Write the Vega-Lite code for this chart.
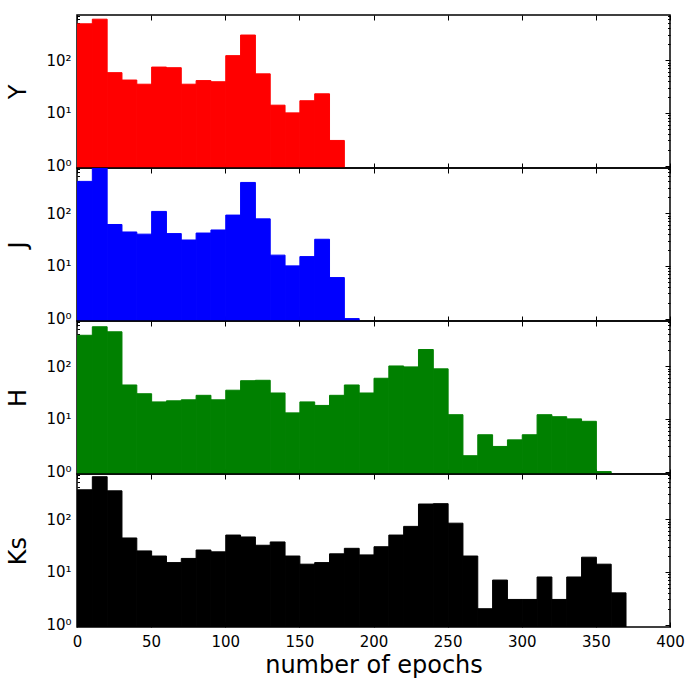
{
  "$schema": "https://vega.github.io/schema/vega-lite/v6.json",
  "padding": {"left": 6, "top": 7, "right": 5, "bottom": 5},
  "background": "white",
  "bounds": "flush",
  "spacing": 0,
  "data": {"values": [
    {"band":"Y","lo":0,"hi":10,"count":490},{"band":"Y","lo":10,"hi":20,"count":600},{"band":"Y","lo":20,"hi":30,"count":58},{"band":"Y","lo":30,"hi":40,"count":42},{"band":"Y","lo":40,"hi":50,"count":35},{"band":"Y","lo":50,"hi":60,"count":74},{"band":"Y","lo":60,"hi":70,"count":72},{"band":"Y","lo":70,"hi":80,"count":35},{"band":"Y","lo":80,"hi":90,"count":41},{"band":"Y","lo":90,"hi":100,"count":39},{"band":"Y","lo":100,"hi":110,"count":122},{"band":"Y","lo":110,"hi":120,"count":300},{"band":"Y","lo":120,"hi":130,"count":55},{"band":"Y","lo":130,"hi":140,"count":14},{"band":"Y","lo":140,"hi":150,"count":10},{"band":"Y","lo":150,"hi":160,"count":17},{"band":"Y","lo":160,"hi":170,"count":23},{"band":"Y","lo":170,"hi":180,"count":3},
    {"band":"J","lo":0,"hi":10,"count":401},{"band":"J","lo":10,"hi":20,"count":900},{"band":"J","lo":20,"hi":30,"count":61},{"band":"J","lo":30,"hi":40,"count":44},{"band":"J","lo":40,"hi":50,"count":40},{"band":"J","lo":50,"hi":60,"count":108},{"band":"J","lo":60,"hi":70,"count":41},{"band":"J","lo":70,"hi":80,"count":31},{"band":"J","lo":80,"hi":90,"count":42},{"band":"J","lo":90,"hi":100,"count":48},{"band":"J","lo":100,"hi":110,"count":92},{"band":"J","lo":110,"hi":120,"count":383},{"band":"J","lo":120,"hi":130,"count":78},{"band":"J","lo":130,"hi":140,"count":16},{"band":"J","lo":140,"hi":150,"count":10},{"band":"J","lo":150,"hi":160,"count":15},{"band":"J","lo":160,"hi":170,"count":32},{"band":"J","lo":170,"hi":180,"count":6},{"band":"J","lo":180,"hi":190,"count":1},
    {"band":"H","lo":0,"hi":10,"count":386},{"band":"H","lo":10,"hi":20,"count":560},{"band":"H","lo":20,"hi":30,"count":449},{"band":"H","lo":30,"hi":40,"count":44},{"band":"H","lo":40,"hi":50,"count":30},{"band":"H","lo":50,"hi":60,"count":21},{"band":"H","lo":60,"hi":70,"count":22},{"band":"H","lo":70,"hi":80,"count":23},{"band":"H","lo":80,"hi":90,"count":28},{"band":"H","lo":90,"hi":100,"count":23},{"band":"H","lo":100,"hi":110,"count":35},{"band":"H","lo":110,"hi":120,"count":53},{"band":"H","lo":120,"hi":130,"count":54},{"band":"H","lo":130,"hi":140,"count":31},{"band":"H","lo":140,"hi":150,"count":13},{"band":"H","lo":150,"hi":160,"count":21},{"band":"H","lo":160,"hi":170,"count":18},{"band":"H","lo":170,"hi":180,"count":28},{"band":"H","lo":180,"hi":190,"count":44},{"band":"H","lo":190,"hi":200,"count":31},{"band":"H","lo":200,"hi":210,"count":59},{"band":"H","lo":210,"hi":220,"count":101},{"band":"H","lo":220,"hi":230,"count":97},{"band":"H","lo":230,"hi":240,"count":207},{"band":"H","lo":240,"hi":250,"count":89},{"band":"H","lo":250,"hi":260,"count":12},{"band":"H","lo":260,"hi":270,"count":2},{"band":"H","lo":270,"hi":280,"count":5},{"band":"H","lo":280,"hi":290,"count":3},{"band":"H","lo":290,"hi":300,"count":4},{"band":"H","lo":300,"hi":310,"count":5},{"band":"H","lo":310,"hi":320,"count":12},{"band":"H","lo":320,"hi":330,"count":11},{"band":"H","lo":330,"hi":340,"count":10},{"band":"H","lo":340,"hi":350,"count":9},{"band":"H","lo":350,"hi":360,"count":1},
    {"band":"Ks","lo":0,"hi":10,"count":361},{"band":"Ks","lo":10,"hi":20,"count":640},{"band":"Ks","lo":20,"hi":30,"count":345},{"band":"Ks","lo":30,"hi":40,"count":44},{"band":"Ks","lo":40,"hi":50,"count":25},{"band":"Ks","lo":50,"hi":60,"count":20},{"band":"Ks","lo":60,"hi":70,"count":15},{"band":"Ks","lo":70,"hi":80,"count":18},{"band":"Ks","lo":80,"hi":90,"count":26},{"band":"Ks","lo":90,"hi":100,"count":24},{"band":"Ks","lo":100,"hi":110,"count":50},{"band":"Ks","lo":110,"hi":120,"count":46},{"band":"Ks","lo":120,"hi":130,"count":32},{"band":"Ks","lo":130,"hi":140,"count":37},{"band":"Ks","lo":140,"hi":150,"count":20},{"band":"Ks","lo":150,"hi":160,"count":14},{"band":"Ks","lo":160,"hi":170,"count":15},{"band":"Ks","lo":170,"hi":180,"count":22},{"band":"Ks","lo":180,"hi":190,"count":28},{"band":"Ks","lo":190,"hi":200,"count":21},{"band":"Ks","lo":200,"hi":210,"count":30},{"band":"Ks","lo":210,"hi":220,"count":50},{"band":"Ks","lo":220,"hi":230,"count":73},{"band":"Ks","lo":230,"hi":240,"count":194},{"band":"Ks","lo":240,"hi":250,"count":197},{"band":"Ks","lo":250,"hi":260,"count":84},{"band":"Ks","lo":260,"hi":270,"count":20},{"band":"Ks","lo":270,"hi":280,"count":2},{"band":"Ks","lo":280,"hi":290,"count":7},{"band":"Ks","lo":290,"hi":300,"count":3},{"band":"Ks","lo":300,"hi":310,"count":3},{"band":"Ks","lo":310,"hi":320,"count":8},{"band":"Ks","lo":320,"hi":330,"count":3},{"band":"Ks","lo":330,"hi":340,"count":8},{"band":"Ks","lo":340,"hi":350,"count":19},{"band":"Ks","lo":350,"hi":360,"count":14},{"band":"Ks","lo":360,"hi":370,"count":4}
  ]},
  "vconcat": [
    {
      "width": 593, "height": 153,
      "transform": [{"filter": "datum.band == 'Y'"}],
      "layer": [
        {"mark": {"type": "bar", "clip": true, "binSpacing": 0, "fill": "#ff0000", "stroke": "#ff0000", "strokeWidth": 1},
         "encoding": {
           "x": {"field": "lo", "type": "quantitative", "bin": {"binned": true, "step": 10}, "scale": {"domain": [0, 400], "nice": false},
             "axis": {"orient": "bottom", "title": null, "labels": false, "values": [0,50,100,150,200,250,300,350,400], "tickSize": -5}},
           "x2": {"field": "hi"},
           "y": {"field": "count", "type": "quantitative", "scale": {"type": "log", "domain": [0.9, 720], "nice": false},
             "axis": {"orient": "left", "title": "Y", "values": [1,2,3,4,5,6,7,8,9,10,20,30,40,50,60,70,80,90,100,200,300,400,500,600,700], "labelExpr": "datum.value == 1 ? '10⁰' : datum.value == 10 ? '10¹' : datum.value == 100 ? '10²' : ''", "tickSize": {"condition": {"test": "datum.value == 1 || datum.value == 10 || datum.value == 100", "value": -5}, "value": -2.5}}},
           "y2": {"datum": 0.9}
         }},
        {"mark": {"type": "point", "opacity": 0},
         "encoding": {
           "x": {"field": "lo", "type": "quantitative", "axis": {"orient": "top", "title": null, "labels": false, "values": [0,50,100,150,200,250,300,350,400], "tickSize": -5}},
           "y": {"field": "count", "type": "quantitative", "axis": {"orient": "right", "title": null, "labels": false, "values": [1,2,3,4,5,6,7,8,9,10,20,30,40,50,60,70,80,90,100,200,300,400,500,600,700], "tickSize": {"condition": {"test": "datum.value == 1 || datum.value == 10 || datum.value == 100", "value": -5}, "value": -2.5}}}
         }}
      ],
      "resolve": {"axis": {"x": "independent", "y": "independent"}}
    },
    {
      "width": 593, "height": 153,
      "transform": [{"filter": "datum.band == 'J'"}],
      "layer": [
        {"mark": {"type": "bar", "clip": true, "binSpacing": 0, "fill": "#0000ff", "stroke": "#0000ff", "strokeWidth": 1},
         "encoding": {
           "x": {"field": "lo", "type": "quantitative", "bin": {"binned": true, "step": 10}, "scale": {"domain": [0, 400], "nice": false},
             "axis": {"orient": "bottom", "title": null, "labels": false, "values": [0,50,100,150,200,250,300,350,400], "tickSize": -5}},
           "x2": {"field": "hi"},
           "y": {"field": "count", "type": "quantitative", "scale": {"type": "log", "domain": [0.9, 720], "nice": false},
             "axis": {"orient": "left", "title": "J", "values": [1,2,3,4,5,6,7,8,9,10,20,30,40,50,60,70,80,90,100,200,300,400,500,600,700], "labelExpr": "datum.value == 1 ? '10⁰' : datum.value == 10 ? '10¹' : datum.value == 100 ? '10²' : ''", "tickSize": {"condition": {"test": "datum.value == 1 || datum.value == 10 || datum.value == 100", "value": -5}, "value": -2.5}}},
           "y2": {"datum": 0.9}
         }},
        {"mark": {"type": "point", "opacity": 0},
         "encoding": {
           "x": {"field": "lo", "type": "quantitative", "axis": {"orient": "top", "title": null, "labels": false, "values": [0,50,100,150,200,250,300,350,400], "tickSize": -5}},
           "y": {"field": "count", "type": "quantitative", "axis": {"orient": "right", "title": null, "labels": false, "values": [1,2,3,4,5,6,7,8,9,10,20,30,40,50,60,70,80,90,100,200,300,400,500,600,700], "tickSize": {"condition": {"test": "datum.value == 1 || datum.value == 10 || datum.value == 100", "value": -5}, "value": -2.5}}}
         }}
      ],
      "resolve": {"axis": {"x": "independent", "y": "independent"}}
    },
    {
      "width": 593, "height": 153,
      "transform": [{"filter": "datum.band == 'H'"}],
      "layer": [
        {"mark": {"type": "bar", "clip": true, "binSpacing": 0, "fill": "#008000", "stroke": "#008000", "strokeWidth": 1},
         "encoding": {
           "x": {"field": "lo", "type": "quantitative", "bin": {"binned": true, "step": 10}, "scale": {"domain": [0, 400], "nice": false},
             "axis": {"orient": "bottom", "title": null, "labels": false, "values": [0,50,100,150,200,250,300,350,400], "tickSize": -5}},
           "x2": {"field": "hi"},
           "y": {"field": "count", "type": "quantitative", "scale": {"type": "log", "domain": [0.9, 720], "nice": false},
             "axis": {"orient": "left", "title": "H", "values": [1,2,3,4,5,6,7,8,9,10,20,30,40,50,60,70,80,90,100,200,300,400,500,600,700], "labelExpr": "datum.value == 1 ? '10⁰' : datum.value == 10 ? '10¹' : datum.value == 100 ? '10²' : ''", "tickSize": {"condition": {"test": "datum.value == 1 || datum.value == 10 || datum.value == 100", "value": -5}, "value": -2.5}}},
           "y2": {"datum": 0.9}
         }},
        {"mark": {"type": "point", "opacity": 0},
         "encoding": {
           "x": {"field": "lo", "type": "quantitative", "axis": {"orient": "top", "title": null, "labels": false, "values": [0,50,100,150,200,250,300,350,400], "tickSize": -5}},
           "y": {"field": "count", "type": "quantitative", "axis": {"orient": "right", "title": null, "labels": false, "values": [1,2,3,4,5,6,7,8,9,10,20,30,40,50,60,70,80,90,100,200,300,400,500,600,700], "tickSize": {"condition": {"test": "datum.value == 1 || datum.value == 10 || datum.value == 100", "value": -5}, "value": -2.5}}}
         }}
      ],
      "resolve": {"axis": {"x": "independent", "y": "independent"}}
    },
    {
      "width": 593, "height": 153,
      "transform": [{"filter": "datum.band == 'Ks'"}],
      "layer": [
        {"mark": {"type": "bar", "clip": true, "binSpacing": 0, "fill": "#000000", "stroke": "#000000", "strokeWidth": 1},
         "encoding": {
           "x": {"field": "lo", "type": "quantitative", "bin": {"binned": true, "step": 10}, "scale": {"domain": [0, 400], "nice": false},
             "axis": {"orient": "bottom", "title": "number of epochs", "labels": true, "labelFlush": false, "values": [0,50,100,150,200,250,300,350,400], "tickSize": -5, "labelPadding": 12, "titlePadding": 4}},
           "x2": {"field": "hi"},
           "y": {"field": "count", "type": "quantitative", "scale": {"type": "log", "domain": [0.9, 720], "nice": false},
             "axis": {"orient": "left", "title": "Ks", "values": [1,2,3,4,5,6,7,8,9,10,20,30,40,50,60,70,80,90,100,200,300,400,500,600,700], "labelExpr": "datum.value == 1 ? '10⁰' : datum.value == 10 ? '10¹' : datum.value == 100 ? '10²' : ''", "tickSize": {"condition": {"test": "datum.value == 1 || datum.value == 10 || datum.value == 100", "value": -5}, "value": -2.5}}},
           "y2": {"datum": 0.9}
         }},
        {"mark": {"type": "point", "opacity": 0},
         "encoding": {
           "x": {"field": "lo", "type": "quantitative", "axis": {"orient": "top", "title": null, "labels": false, "values": [0,50,100,150,200,250,300,350,400], "tickSize": -5}},
           "y": {"field": "count", "type": "quantitative", "axis": {"orient": "right", "title": null, "labels": false, "values": [1,2,3,4,5,6,7,8,9,10,20,30,40,50,60,70,80,90,100,200,300,400,500,600,700], "tickSize": {"condition": {"test": "datum.value == 1 || datum.value == 10 || datum.value == 100", "value": -5}, "value": -2.5}}}
         }}
      ],
      "resolve": {"axis": {"x": "independent", "y": "independent"}}
    }
  ],
  "config": {
    "font": "DejaVu Sans",
    "view": {"stroke": "black", "strokeWidth": 1.5},
    "axis": {"grid": false, "domain": false, "labelFontSize": 15, "labelColor": "black", "tickColor": "black", "tickWidth": 1, "labelOverlap": false, "labelPadding": 11, "titleFontSize": 24, "titleFontWeight": "normal", "titleColor": "black", "titlePadding": 15, "labelFont": "DejaVu Sans", "titleFont": "DejaVu Sans"}
  }
}
